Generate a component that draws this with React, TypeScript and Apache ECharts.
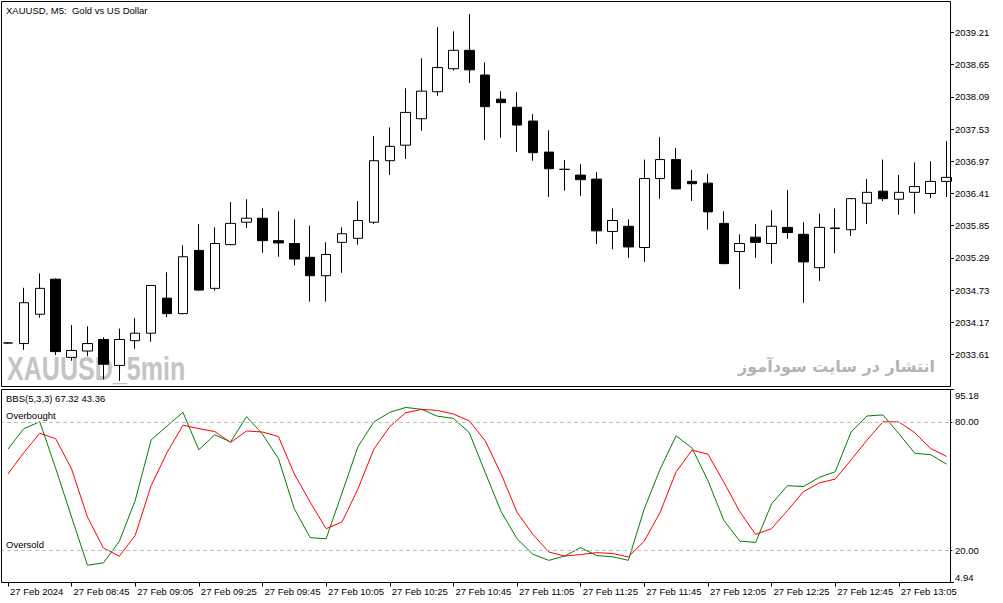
import React, { useEffect, useRef } from 'react';
import * as echarts from 'echarts';

// ---------- data ----------
const categories = [
  '08:25', '08:30', '08:35', '08:40', '08:45', '08:50', '08:55', '09:00', '09:05', '09:10',
  '09:15', '09:20', '09:25', '09:30', '09:35', '09:40', '09:45', '09:50', '09:55', '10:00',
  '10:05', '10:10', '10:15', '10:20', '10:25', '10:30', '10:35', '10:40', '10:45', '10:50',
  '10:55', '11:00', '11:05', '11:10', '11:15', '11:20', '11:25', '11:30', '11:35', '11:40',
  '11:45', '11:50', '11:55', '12:00', '12:05', '12:10', '12:15', '12:20', '12:25', '12:30',
  '12:35', '12:40', '12:45', '12:50', '12:55', '13:00', '13:05', '13:10', '13:15', '13:20',
];
const firstTickLabel = '27 Feb 2024';
const datePrefix = '27 Feb';

const opens = [
  2033.81, 2033.80, 2034.31, 2034.92, 2033.56, 2033.67, 2033.87, 2033.42, 2033.85, 2033.98,
  2034.59, 2034.32, 2035.42, 2034.76, 2035.52, 2035.91, 2035.98, 2035.59, 2035.54, 2035.30,
  2034.98, 2035.56, 2035.63, 2035.91, 2036.98, 2037.25, 2037.71, 2038.18, 2038.58, 2038.90,
  2038.47, 2038.05, 2037.91, 2037.67, 2037.13, 2036.83, 2036.73, 2036.66, 2035.75, 2035.84,
  2035.47, 2036.67, 2037.00, 2036.62, 2036.59, 2035.89, 2035.40, 2035.65, 2035.54, 2035.82,
  2035.70, 2035.12, 2035.81, 2035.78, 2036.24, 2036.45, 2036.31, 2036.43, 2036.41, 2036.62,
];
const closes = [
  2033.81, 2034.51, 2034.76, 2033.66, 2033.68, 2033.80, 2033.44, 2033.87, 2033.98, 2034.81,
  2034.32, 2035.31, 2034.73, 2035.54, 2035.89, 2035.98, 2035.59, 2035.55, 2035.27, 2034.98,
  2035.35, 2035.71, 2035.94, 2036.98, 2037.23, 2037.82, 2038.19, 2038.60, 2038.90, 2038.56,
  2037.92, 2037.99, 2037.60, 2037.12, 2036.84, 2036.83, 2036.65, 2035.76, 2035.94, 2035.48,
  2036.67, 2037.00, 2036.49, 2036.58, 2036.09, 2035.19, 2035.54, 2035.56, 2035.84, 2035.73,
  2035.22, 2035.82, 2035.80, 2036.32, 2036.43, 2036.32, 2036.43, 2036.53, 2036.62, 2036.69,
];
const lows = [
  2033.80, 2033.69, 2034.25, 2033.60, 2033.50, 2033.58, 2033.18, 2033.15, 2033.71, 2033.83,
  2034.26, 2034.31, 2034.72, 2034.72, 2035.51, 2035.81, 2035.38, 2035.31, 2035.16, 2034.53,
  2034.53, 2035.03, 2035.52, 2035.88, 2036.73, 2037.01, 2037.50, 2038.11, 2038.55, 2038.33,
  2037.34, 2037.38, 2037.13, 2036.98, 2036.35, 2036.46, 2036.37, 2035.53, 2035.44, 2035.29,
  2035.22, 2036.32, 2036.48, 2036.28, 2035.78, 2035.18, 2034.75, 2035.29, 2035.19, 2035.62,
  2034.51, 2034.89, 2035.37, 2035.67, 2035.88, 2036.28, 2036.04, 2036.06, 2036.33, 2036.35,
];
const highs = [
  2033.82, 2034.77, 2035.02, 2034.93, 2034.12, 2034.10, 2033.91, 2034.06, 2034.24, 2034.82,
  2035.04, 2035.51, 2035.88, 2035.82, 2036.26, 2036.31, 2036.15, 2036.10, 2035.96, 2035.85,
  2035.56, 2035.82, 2036.28, 2037.41, 2037.56, 2038.24, 2038.76, 2039.30, 2039.23, 2039.53,
  2038.69, 2038.19, 2038.17, 2037.79, 2037.51, 2036.99, 2036.92, 2036.78, 2036.15, 2035.96,
  2037.00, 2037.39, 2037.20, 2036.82, 2036.75, 2036.10, 2035.70, 2035.88, 2036.12, 2036.47,
  2035.91, 2036.06, 2036.15, 2036.33, 2036.66, 2037.00, 2036.73, 2036.95, 2036.97, 2037.32,
];

// BBS(5,3,3) main (green) and signal (red)
const stochMain = [
  67.3, 76.9, 80.1, 58.3, 35.5, 13.0, 14.1, 24.2, 43.3, 71.6,
  78.1, 84.5, 67.0, 74.0, 70.7, 82.5, 74.3, 62.9, 39.4, 25.9,
  25.4, 46.8, 68.4, 80.0, 84.5, 86.8, 85.9, 82.7, 81.7, 75.0,
  56.4, 38.1, 25.4, 18.1, 15.3, 17.3, 21.3, 17.5, 17.0, 15.3,
  39.4, 58.0, 73.5, 67.8, 52.6, 34.0, 24.3, 23.7, 41.7, 50.2,
  49.8, 54.1, 56.7, 75.3, 82.8, 83.3, 74.6, 65.4, 64.7, 60.3,
];
const stochSignal = [
  55.7, 65.7, 74.7, 72.2, 58.0, 35.5, 21.1, 17.2, 27.0, 50.2,
  65.7, 78.5, 76.9, 75.5, 70.4, 75.8, 75.3, 73.2, 55.7, 42.5,
  30.1, 33.2, 48.7, 67.3, 77.8, 84.3, 85.9, 85.4, 83.7, 80.5,
  71.2, 55.7, 37.8, 27.4, 19.2, 17.3, 18.0, 18.9, 18.5, 16.9,
  24.3, 37.8, 56.7, 66.8, 65.0, 51.8, 38.1, 27.4, 30.1, 38.6,
  47.4, 51.5, 53.3, 62.3, 71.5, 80.1, 80.0, 75.0, 67.6, 63.9,
];

const priceTicks = [2033.61, 2034.17, 2034.73, 2035.29, 2035.85, 2036.41, 2036.97, 2037.53, 2038.09, 2038.65, 2039.21];
const stochTicks = [4.94, 20, 80, 95.18];
const levelValues = [80, 20];
const levelNames = ['Overbought', 'Oversold'];

const titleText = 'XAUUSD, M5:  Gold vs US Dollar';
const indicatorText = 'BBS(5,3,3) 67.32 43.36';
const watermarkLeft = 'XAUUSD_5min';
const watermarkRight = 'انتشار در سایت سودآموز';

// ---------- layout ----------
const FONT = '"Liberation Sans", Arial, sans-serif';
const FS = 9.5;
const GRID_LEFT = -5.5;
const GRID_WIDTH = 960;
const PRICE_MAX = 2039.749;
const PRICE_MIN = 2033.053;
const STOCH_MAX = 95.18;
const STOCH_MIN = 4.94;

export default function App() {
  const ref = useRef<HTMLDivElement>(null);

  useEffect(() => {
    document.body.style.margin = '0';
    if (!ref.current) return;
    const chart = echarts.init(ref.current, undefined, { renderer: 'svg' });

    const candleData = categories.map((_, i) => [opens[i], closes[i], lows[i], highs[i]]);

    const option: any = {
      animation: false,
      backgroundColor: '#ffffff',
      grid: [
        { left: GRID_LEFT, top: 1.5, width: GRID_WIDTH, height: 385 },
        { left: GRID_LEFT, top: 389.5, width: GRID_WIDTH, height: 193 },
      ],
      xAxis: [
        { type: 'category', gridIndex: 0, data: categories, boundaryGap: true, show: false },
        {
          type: 'category', gridIndex: 1, data: categories, boundaryGap: true,
          axisLine: { show: false },
          axisTick: { show: true, alignWithLabel: true, interval: 3, length: 4, lineStyle: { color: '#000', width: 1 } },
          axisLabel: {
            interval: 3, align: 'left', margin: 4, color: '#000', fontSize: FS, fontFamily: FONT,
            padding: [0, 0, 0, 2],
            formatter: (v: string, i: number) => (i === 0 ? firstTickLabel : `${datePrefix} ${v}`),
          },
          splitLine: { show: false },
        },
      ],
      yAxis: [
        {
          type: 'value', gridIndex: 0, position: 'right', offset: -4.5, min: PRICE_MIN, max: PRICE_MAX,
          axisLine: { show: false },
          axisTick: { show: true, length: 4, customValues: priceTicks, lineStyle: { color: '#000', width: 1 } },
          axisLabel: {
            customValues: priceTicks, margin: 5, color: '#000', fontSize: FS, fontFamily: FONT,
            formatter: (v: number) => v.toFixed(2),
          },
          splitLine: { show: false },
        },
        {
          type: 'value', gridIndex: 1, position: 'right', offset: -4.5, min: STOCH_MIN, max: STOCH_MAX,
          axisLine: { show: false },
          axisTick: { show: true, length: 4, customValues: stochTicks, lineStyle: { color: '#000', width: 1 } },
          axisLabel: {
            customValues: stochTicks, margin: 5, color: '#000', fontSize: FS, fontFamily: FONT,
            formatter: (v: number) => {
              const s = v.toFixed(2);
              if (Math.abs(v - STOCH_MAX) < 1e-6) return `{top|${s}}`;
              if (Math.abs(v - STOCH_MIN) < 1e-6) return `{bot|${s}}`;
              return s;
            },
            rich: {
              top: { padding: [11, 0, 0, 0], fontSize: FS, fontFamily: FONT, color: '#000' },
              bot: { padding: [0, 0, 11, 0], fontSize: FS, fontFamily: FONT, color: '#000' },
            },
          },
          splitLine: { show: false },
        },
      ],
      series: [
        {
          type: 'candlestick', xAxisIndex: 0, yAxisIndex: 0, data: candleData, barWidth: 10,
          itemStyle: { color: '#ffffff', color0: '#000000', borderColor: '#000000', borderColor0: '#000000', borderWidth: 1 },
        },
        {
          type: 'line', xAxisIndex: 1, yAxisIndex: 1, data: stochMain, showSymbol: false, symbol: 'none',
          lineStyle: { color: '#008000', width: 1 },
          markLine: {
            silent: true, symbol: ['none', 'none'], label: { show: false },
            lineStyle: { color: '#c0c0c0', type: [4, 3], width: 1 },
            data: levelValues.map((v) => ({ yAxis: v })),
          },
        },
        {
          type: 'line', xAxisIndex: 1, yAxisIndex: 1, data: stochSignal, showSymbol: false, symbol: 'none',
          lineStyle: { color: '#ff0000', width: 1 },
        },
      ],
      graphic: [
        {
          type: 'text', x: 7, y: 368, scaleX: 0.76, z: 0,
          style: { text: watermarkLeft, fill: '#c4c4c4', font: `bold 33px ${FONT}`, verticalAlign: 'middle', align: 'left' },
        },
        {
          type: 'text', x: 935, y: 366, z: 0,
          style: { text: watermarkRight, fill: '#b4b4b4', font: 'bold 16px "DejaVu Sans", sans-serif', verticalAlign: 'middle', align: 'right' },
        },
        {
          type: 'text', x: 6, y: 10, z: 50,
          style: { text: titleText, fill: '#000', font: `${FS}px ${FONT}`, verticalAlign: 'middle' },
        },
        {
          type: 'text', x: 6, y: 398.5, z: 50,
          style: { text: indicatorText, fill: '#000', font: `${FS}px ${FONT}`, verticalAlign: 'middle' },
        },
        {
          type: 'text', x: 6, y: 415.5, z: 50,
          style: { text: levelNames[0], fill: '#000', font: `${FS}px ${FONT}`, verticalAlign: 'middle' },
        },
        {
          type: 'text', x: 6, y: 544.5, z: 50,
          style: { text: levelNames[1], fill: '#000', font: `${FS}px ${FONT}`, verticalAlign: 'middle' },
        },
        {
          type: 'rect', z: 100, silent: true,
          shape: { x: 0, y: 0, width: 1, height: 603 },
          style: { fill: '#ffffff' },
        },
        {
          type: 'rect', z: 100, silent: true,
          shape: { x: 1.5, y: 1.5, width: 949, height: 385 },
          style: { fill: 'none', stroke: '#000', lineWidth: 1 },
        },
        {
          type: 'rect', z: 100, silent: true,
          shape: { x: 1.5, y: 389.5, width: 949, height: 193 },
          style: { fill: 'none', stroke: '#000', lineWidth: 1 },
        },
      ],
    };

    chart.setOption(option);
    return () => chart.dispose();
  }, []);

  return <div ref={ref} style={{ width: 1003, height: 603 }} />;
}
